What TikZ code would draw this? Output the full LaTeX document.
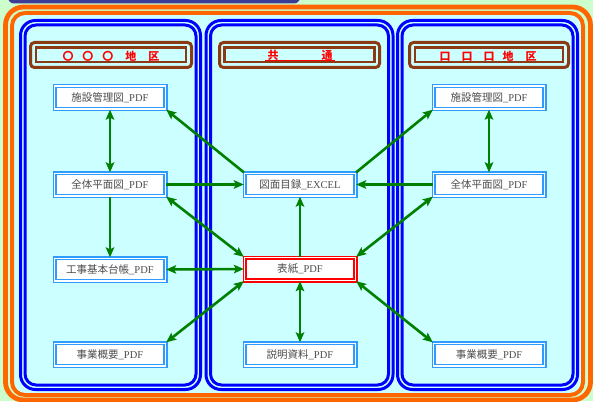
\documentclass[tikz,border=0pt]{standalone}
\usepackage{fontspec}
\setmainfont{Liberation Serif}
\newfontfamily\cjk{Noto Sans CJK JP}
\usetikzlibrary{arrows.meta}
\definecolor{bggreen}{HTML}{CCFFCC}
\definecolor{lcyan}{HTML}{CCFFFF}
\definecolor{frameorange}{HTML}{FF6600}
\definecolor{panelblue}{HTML}{0000FF}
\definecolor{darkbar}{HTML}{3C3C96}
\definecolor{titlebrown}{HTML}{8B3A13}
\definecolor{boxblue}{HTML}{2E9BFF}
\definecolor{arrowgreen}{HTML}{008000}
\definecolor{txtgray}{HTML}{4D4D4D}
\tikzset{
  pdfbox/.style={draw=boxblue, double=white, double distance=1.2pt, line width=1.5pt,
    fill=white, minimum width=110.8pt, minimum height=22.8pt, inner sep=0pt,
    text=txtgray, font=\fontsize{10.5pt}{12pt}\selectfont},
  redbox/.style={pdfbox, draw=red},
  link/.style={draw=arrowgreen, line width=2.6pt, arrows={-Stealth[length=10pt,width=8.5pt,inset=2pt]}},
  blink/.style={link, arrows={Stealth[length=10pt,width=8.5pt,inset=2pt]-Stealth[length=10pt,width=8.5pt,inset=2pt]}},
  panelout/.style={draw=panelblue, line width=3pt, rounded corners=15pt},
  panelin/.style={draw=panelblue, line width=3pt, rounded corners=11pt, fill=lcyan},
  titleout/.style={draw=titlebrown, line width=3pt, rounded corners=4pt},
  titlein/.style={draw=titlebrown, line width=2.5pt},
  titletext/.style={text=red, font=\cjk\bfseries\fontsize{11pt}{12pt}\selectfont, inner sep=0pt},
  uline/.style={draw=red, line width=1.2pt}
}
\begin{document}
\begin{tikzpicture}[x=1pt,y=-1pt]
\useasboundingbox (0,0) rectangle (593,401);
\fill[bggreen] (0,0) rectangle (593,401);
% top dark bar
\begin{scope}
\clip (0,0) rectangle (593,401);
\fill[darkbar, rounded corners=6pt] (8,-12) rectangle (300,3.5);
\end{scope}
% orange frame
\draw[frameorange, line width=4.8pt, rounded corners=18pt] (5.5,7) rectangle (590.5,400);
\draw[frameorange, line width=4pt, rounded corners=13pt, fill=lcyan] (12,13) rectangle (583,395);
% panels
\draw[panelout] (20.5,20.5) rectangle (200.5,389.5);
\draw[panelin] (25,25) rectangle (196,385);
\draw[panelout] (206,20.5) rectangle (393,389.5);
\draw[panelin] (210.5,25) rectangle (388.5,385);
\draw[panelout] (397.5,20.5) rectangle (577.5,389.5);
\draw[panelin] (402,25) rectangle (573,385);
% title boxes
\draw[titleout] (30.5,42.5) rectangle (191.5,67.5);
\draw[titlein] (36,47.5) rectangle (186,62);
\node[titletext] (tl) at (111,56) {〇\hspace{9pt}〇\hspace{9pt}〇\hspace{12pt}地\hspace{12pt}区};
\draw[titleout] (219.5,42.5) rectangle (379.5,67.5);
\draw[titlein] (224.5,47.5) rectangle (374.5,62);
\node[titletext] (tm) at (300,55.5) {共\hspace{43pt}通};
\draw[uline] ([xshift=-2pt]tm.south west) -- ([xshift=2pt]tm.south east);
\draw[titleout] (409.5,42.5) rectangle (568.5,67.5);
\draw[titlein] (415,47.5) rectangle (563,62);
\node[titletext] (tr) at (488,56) {口\hspace{11pt}口\hspace{11pt}口\hspace{8pt}地\hspace{12pt}区};
% nodes
\node[pdfbox] (L1) at (110,97.5) {\cjk 施設管理図\normalfont\_PDF};
\node[pdfbox] (L2) at (110,184.5) {\cjk 全体平面図\normalfont\_PDF};
\node[pdfbox] (L3) at (110,269.5) {\cjk 工事基本台帳\normalfont\_PDF};
\node[pdfbox] (L4) at (110,354.5) {\cjk 事業概要\normalfont\_PDF};
\node[pdfbox] (M1) at (300,184.5) {\cjk 図面目録\normalfont\_EXCEL};
\node[redbox] (M2) at (300,269) {\cjk 表紙\normalfont\_PDF};
\node[pdfbox] (M3) at (300,354.5) {\cjk 説明資料\normalfont\_PDF};
\node[pdfbox] (R1) at (489,97.5) {\cjk 施設管理図\normalfont\_PDF};
\node[pdfbox] (R2) at (489,184.5) {\cjk 全体平面図\normalfont\_PDF};
\node[pdfbox] (R4) at (489,354.5) {\cjk 事業概要\normalfont\_PDF};
% connectors
\draw[blink] (L1.south) -- (L2.north);
\draw[link] (L2.south) -- (L3.north);
\draw[link] (M1.north west) -- (L1.south east);
\draw[link] (L2.east) -- (M1.west);
\draw[blink] (L2.south east) -- (M2.north west);
\draw[blink] (L3.east) -- (M2.west);
\draw[blink] (L4.north east) -- (M2.south west);
\draw[link] (M2.north) -- (M1.south);
\draw[blink] (M2.south) -- (M3.north);
\draw[blink] (R1.south) -- (R2.north);
\draw[link] (M1.north east) -- (R1.south west);
\draw[link] (R2.west) -- (M1.east);
\draw[blink] (R2.south west) -- (M2.north east);
\draw[blink] (R4.north west) -- (M2.south east);
\end{tikzpicture}
\end{document}
